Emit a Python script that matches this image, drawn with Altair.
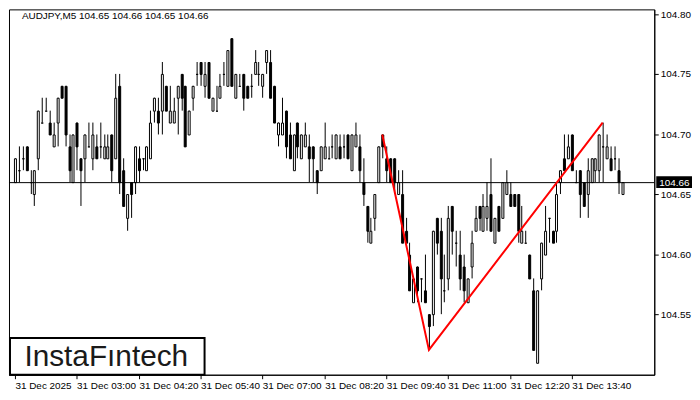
import altair as alt
import pandas as pd

# ---- candle data (AUDJPY, M5) ----
opens = [104.66,104.67,104.68,104.69,104.66,104.65,104.68,104.71,104.72,104.71,
         104.69,104.71,104.74,104.74,104.69,104.66,104.71,104.68,104.68,104.69,
         104.68,104.69,104.69,104.68,104.68,104.70,104.68,104.74,104.67,104.63,
         104.66,104.66,104.68,104.68,104.67,104.68,104.72,104.72,104.72,104.74,
         104.71,104.71,104.73,104.75,104.74,104.70,104.73,104.75,104.76,104.74,
         104.76,104.72,104.72,104.73,104.75,104.74,104.78,104.73,104.74,104.75,
         104.74,104.74,104.75,104.75,104.74,104.76,104.76,104.74,104.70,104.70,
         104.72,104.70,104.67,104.71,104.68,104.69,104.69,104.69,104.67,104.67,
         104.68,104.68,104.69,104.68,104.69,104.69,104.70,104.67,104.69,104.69,
         104.66,104.64,104.61,104.63,104.66,104.70,104.68,104.68,104.68,104.65,
         104.65,104.62,104.60,104.56,104.59,104.58,104.57,104.55,104.55,104.63,
         104.62,104.57,104.58,104.64,104.61,104.60,104.59,104.56,104.59,104.62,
         104.64,104.62,104.63,104.65,104.61,104.64,104.63,104.65,104.65,104.65,
         104.65,104.61,104.61,104.60,104.57,104.51,104.58,104.60,104.63,104.62,
         104.62,104.66,104.68,104.68,104.70,104.66,104.67,104.66,104.65,104.66,
         104.67,104.67,104.69,104.68,104.68,104.68,104.67,104.65]
highs = [104.68,104.69,104.69,104.69,104.67,104.67,104.72,104.73,104.73,104.72,
         104.71,104.73,104.74,104.74,104.70,104.70,104.71,104.68,104.70,104.71,
         104.71,104.70,104.71,104.70,104.70,104.70,104.75,104.75,104.68,104.65,
         104.66,104.69,104.69,104.68,104.69,104.72,104.73,104.73,104.76,104.74,
         104.74,104.73,104.74,104.75,104.74,104.72,104.74,104.76,104.76,104.76,
         104.76,104.73,104.74,104.75,104.76,104.77,104.78,104.75,104.75,104.75,
         104.74,104.75,104.77,104.76,104.75,104.77,104.77,104.74,104.71,104.73,
         104.72,104.71,104.70,104.71,104.70,104.71,104.70,104.69,104.67,104.69,
         104.71,104.69,104.70,104.70,104.70,104.70,104.70,104.70,104.71,104.70,
         104.68,104.64,104.63,104.65,104.69,104.70,104.69,104.68,104.68,104.67,
         104.67,104.63,104.61,104.58,104.59,104.58,104.60,104.55,104.62,104.63,
         104.63,104.60,104.64,104.64,104.62,104.62,104.60,104.58,104.62,104.64,
         104.64,104.65,104.66,104.68,104.63,104.64,104.66,104.67,104.66,104.65,
         104.65,104.64,104.62,104.60,104.58,104.57,104.61,104.64,104.63,104.62,
         104.66,104.67,104.70,104.70,104.70,104.67,104.67,104.66,104.68,104.68,
         104.68,104.70,104.71,104.70,104.69,104.69,104.68,104.66]
lows = [104.66,104.66,104.67,104.67,104.65,104.64,104.67,104.71,104.72,104.70,
        104.69,104.69,104.73,104.69,104.66,104.66,104.67,104.64,104.66,104.69,
        104.67,104.68,104.68,104.68,104.68,104.66,104.68,104.65,104.64,104.62,
        104.63,104.65,104.66,104.67,104.67,104.68,104.71,104.70,104.70,104.72,
        104.71,104.71,104.70,104.72,104.69,104.70,104.72,104.74,104.74,104.73,
        104.73,104.72,104.72,104.73,104.74,104.74,104.74,104.73,104.74,104.72,
        104.73,104.73,104.75,104.74,104.73,104.75,104.73,104.71,104.69,104.70,
        104.68,104.68,104.67,104.68,104.68,104.69,104.66,104.66,104.65,104.67,
        104.68,104.68,104.68,104.68,104.68,104.68,104.68,104.67,104.69,104.66,
        104.64,104.61,104.61,104.62,104.66,104.68,104.66,104.66,104.65,104.65,
        104.61,104.61,104.57,104.56,104.56,104.56,104.56,104.52,104.54,104.60,
        104.55,104.56,104.57,104.60,104.59,104.57,104.56,104.56,104.58,104.62,
        104.62,104.62,104.62,104.62,104.61,104.62,104.63,104.65,104.64,104.64,
        104.61,104.61,104.61,104.58,104.52,104.51,104.57,104.60,104.61,104.61,
        104.61,104.65,104.67,104.68,104.67,104.66,104.63,104.64,104.63,104.66,
        104.66,104.66,104.66,104.68,104.67,104.67,104.65,104.65]
closes = [104.68,104.67,104.68,104.67,104.66,104.67,104.72,104.71,104.72,104.70,
          104.70,104.73,104.73,104.70,104.67,104.70,104.69,104.67,104.70,104.69,
          104.70,104.68,104.69,104.69,104.69,104.67,104.73,104.66,104.64,104.65,
          104.65,104.69,104.67,104.68,104.69,104.71,104.73,104.71,104.75,104.72,
          104.72,104.72,104.74,104.73,104.69,104.72,104.74,104.75,104.75,104.75,
          104.73,104.73,104.72,104.74,104.75,104.77,104.74,104.75,104.74,104.73,
          104.73,104.74,104.76,104.75,104.75,104.77,104.73,104.71,104.71,104.71,
          104.69,104.68,104.70,104.69,104.70,104.70,104.68,104.68,104.66,104.69,
          104.69,104.68,104.69,104.70,104.68,104.69,104.68,104.70,104.70,104.67,
          104.65,104.62,104.62,104.65,104.69,104.69,104.67,104.66,104.66,104.66,
          104.61,104.61,104.57,104.58,104.57,104.58,104.56,104.54,104.62,104.61,
          104.58,104.57,104.63,104.62,104.61,104.58,104.57,104.58,104.61,104.63,
          104.63,104.64,104.64,104.62,104.63,104.62,104.66,104.66,104.64,104.64,
          104.62,104.62,104.61,104.58,104.52,104.57,104.61,104.62,104.63,104.61,
          104.65,104.67,104.67,104.69,104.67,104.66,104.65,104.64,104.67,104.68,
          104.68,104.70,104.69,104.69,104.67,104.68,104.66,104.66]

tick_bars = [0, 16, 32, 48, 64, 80, 96, 112, 128, 144]
tick_labels = ["31 Dec 2025", "31 Dec 03:00", "31 Dec 04:20", "31 Dec 05:40",
               "31 Dec 07:00", "31 Dec 08:20", "31 Dec 09:40", "31 Dec 11:00",
               "31 Dec 12:20", "31 Dec 13:40"]
price_ticks = [104.55, 104.60, 104.65, 104.70, 104.75, 104.80]

pattern_bars = [95, 107, 152]
pattern_prices = [104.70, 104.52, 104.71]
last_price = 104.66
symbol_title = "AUDJPY,M5  104.65 104.66 104.65 104.66"
logo_text = "InstaF\u0131ntech"

W, H = 650, 368
FONT = "Liberation Sans"

df = pd.DataFrame({"bar": list(range(len(opens))), "open": opens, "high": highs,
                   "low": lows, "close": closes})

xs = alt.Scale(domain=[-0.25, 164], nice=False, zero=False, round=True)
ys = alt.Scale(domain=[104.4997, 104.804], nice=False, zero=False, round=True)

expr = "''"
for b, t in reversed(list(zip(tick_bars, tick_labels))):
    expr = f"datum.value == {b} ? '{t}' : ({expr})"

xaxis = alt.Axis(values=tick_bars, labelExpr=expr, orient="bottom", labelAlign="left",
                 tickSize=4, labelPadding=2, labelFontSize=10, labelFont=FONT,
                 labelColor="black", tickColor="black", domainColor="black",
                 title=None, grid=False, labelOverlap=False, labelFlush=False)
yaxis = alt.Axis(values=price_ticks, format=".2f", orient="right", tickSize=4,
                 labelPadding=2, labelFontSize=10, labelFont=FONT, labelColor="black",
                 tickColor="black", domainColor="black", title=None, grid=False,
                 labelOverlap=False)

def X(f):
    return alt.X(f, scale=xs, axis=xaxis)

def Y(f):
    return alt.Y(f, scale=ys, axis=yaxis)

base = alt.Chart(df)
wicks = base.mark_rule(color="black", strokeWidth=1, xOffset=0.5).encode(
    x=X("bar:Q"), y=Y("low:Q"), y2="high:Q")
bodies = base.mark_bar(width=2, stroke="black", strokeWidth=1, xOffset=0.5,
                       yOffset=0.5, y2Offset=0.5).encode(
    x=X("bar:Q"), y=Y("open:Q"), y2="close:Q",
    fill=alt.condition("datum.close > datum.open", alt.value("white"), alt.value("black")))

lp = pd.DataFrame({"p": [last_price], "label": [f"{last_price:.2f}"]})
last_rule = alt.Chart(lp).mark_rule(color="black", strokeWidth=1, yOffset=0.5).encode(
    y=Y("p:Q"))
price_box = alt.Chart(lp).transform_calculate(
    top="datum.p + 0.0052", bot="datum.p - 0.0052").mark_rect(color="black").encode(
    x=alt.value(W + 2), x2=alt.value(W + 38), y=Y("top:Q"), y2="bot:Q")
price_text = alt.Chart(lp).mark_text(color="white", align="left", baseline="middle",
                                     fontSize=10, font=FONT, dy=1).encode(
    x=alt.value(W + 5), y=Y("p:Q"), text="label:N")

pat = pd.DataFrame({"bar": pattern_bars, "price": pattern_prices, "i": [0, 1, 2]})
pattern = alt.Chart(pat).mark_line(color="#ff0000", strokeWidth=2).encode(
    x=X("bar:Q"), y=Y("price:Q"), order="i:O")

tt = pd.DataFrame({"t": [symbol_title]})
title_text = alt.Chart(tt).mark_text(align="left", baseline="top", fontSize=10,
                                     font=FONT, color="black").encode(
    x=alt.value(13), y=alt.value(2), text="t:N")

lg = pd.DataFrame({"t": [logo_text]})
logo_box = alt.Chart(lg).mark_rect(fill="white", stroke="black", strokeWidth=2).encode(
    x=alt.value(1), x2=alt.value(197), y=alt.value(H - 37), y2=alt.value(H))
logo_txt = alt.Chart(lg).mark_text(align="center", baseline="alphabetic", fontSize=30,
                                   font=FONT, color="#1a1a1a").encode(
    x=alt.value(98), y=alt.value(H - 9), text="t:N")

chart = alt.layer(wicks, bodies, last_rule, pattern, price_box, price_text,
                  title_text, logo_box, logo_txt).properties(
    width=W, height=H, padding=0, background="white"
).configure_view(stroke="black", strokeWidth=1)

chart.save("out.html", embed_options={"renderer": "svg", "actions": False})
